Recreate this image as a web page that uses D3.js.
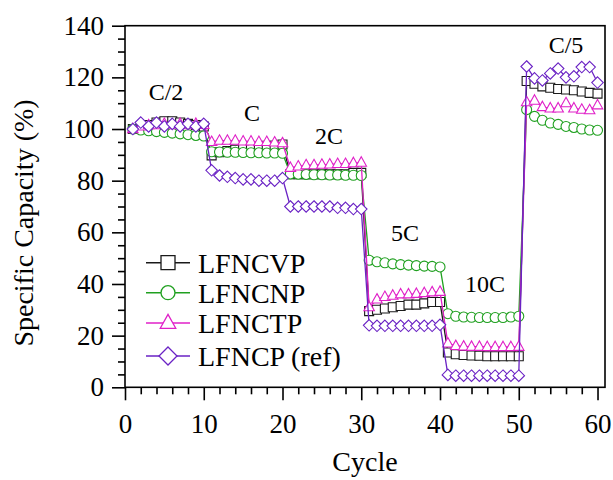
<!DOCTYPE html>
<html><head><meta charset="utf-8">
<script src="https://cdn.jsdelivr.net/npm/d3@7"></script>
<style>html,body{margin:0;padding:0;background:#fff;}svg{display:block;}</style>
</head><body>
<svg id="chart" width="613" height="480"></svg>
<script>
const cycles = d3.range(1, 61);
const seriesNames = ["LFNCVP", "LFNCNP", "LFNCTP", "LFNCP (ref)"];
const LFNCVP = [100,101,101.5,102.5,103,103,102.5,102,101.5,101,
  89.8,91,91.5,92,92.5,93,93,93.5,93.5,94,
  82.5,82.5,82.5,82.5,82.5,82.5,82.5,82.5,83,83,
  29.5,30,30.5,31,31.5,32,32,32.5,33,33,
  13.5,12.8,12.5,12.3,12.2,12,12,12,12,12,
  118.6,117.5,116.5,116,115.5,115.3,115,114.5,114,113.7];
const LFNCNP = [100,99.6,99.3,99,98.7,98.4,98.1,97.8,97.5,97.3,
  91.2,91.1,91,91,90.9,90.8,90.8,90.7,90.7,90.6,
  82.6,82.5,82.4,82.3,82.3,82.2,82.2,82.1,82.1,82,
  49.2,48.6,48.2,47.8,47.5,47.3,47.1,46.9,46.8,46.6,
  28.5,27.5,27.2,27.1,27,27,27,27,27.2,27.5,
  107.5,104.9,103.4,102.3,101.8,101,100.6,100,99.6,99.5];
const LFNCTP = [100,101,101.5,101.5,102,101.5,102,101.5,102,101.6,
  95,95.5,95.5,95.5,95.2,95.2,95,95,94.8,94.5,
  85,85.5,86,86,86.2,86.3,86.5,86.5,86.8,87,
  31,34,35,35.5,36,36,36.2,36.5,36.8,37,
  17,16,15.8,15.7,15.7,15.6,15.6,15.6,15.6,15.7,
  110.4,111,108.5,108,108,110,108,107.5,107.3,109.2];
const LFNCP = [100,102.5,101,102.5,101,102,101,102,101,102,
  84,82,81.5,81,80.5,80.5,80,80,80,81,
  70,70,70,70,70,70,69.5,69.5,69,69,
  24,23.8,23.8,23.8,23.8,23.8,23.8,23.8,23.8,24.2,
  4.8,4.5,4.5,4.5,4.5,4.5,4.5,4.5,4.5,4.5,
  124.2,119.6,118.8,121.5,123.4,120,120.4,124,124,118];
const xTicks = [0,10,20,30,40,50,60];
const yTicks = [0,20,40,60,80,100,120,140];
const rateLabels = ["C/2","C","2C","5C","10C","C/5"];

const colors = ["#1a1a1a","#20a020","#e020c8","#6a22c4"];
const shapes = ["square","circle","triangle","diamond"];
const seriesData = [LFNCVP, LFNCNP, LFNCTP, LFNCP];

const svg = d3.select("#chart");
const W = 613, H = 480;
const m = {left:125, right:8, top:25.7, bottom:92.7};
const x = d3.scaleLinear().domain([0, 60.95]).range([m.left, W - m.right]);
const y = d3.scaleLinear().domain([0, 140]).range([H - m.bottom, m.top]);
const font = "'Liberation Serif','Times New Roman',serif";

// frame
svg.append("rect").attr("x", x(0)).attr("y", y(140))
  .attr("width", x(60.95) - x(0)).attr("height", y(0) - y(140))
  .attr("fill", "none").attr("stroke", "#000").attr("stroke-width", 1.6);

// axes
const xMinor = d3.axisBottom(x).tickValues(d3.range(0, 61, 2).filter(v => v % 10)).tickSize(7).tickFormat("");
const xMajor = d3.axisBottom(x).tickValues(xTicks).tickSize(13).tickPadding(14).tickFormat(d3.format("d"));
const yMinor = d3.axisLeft(y).tickValues(d3.range(0, 141, 5).filter(v => v % 20)).tickSize(7).tickFormat("");
const yMajor = d3.axisLeft(y).tickValues(yTicks).tickSize(13).tickPadding(8).tickFormat(d3.format("d"));
function styleAxis(g){
  g.select(".domain").remove();
  g.selectAll("line").attr("stroke","#000").attr("stroke-width",1.6);
  g.selectAll("text").attr("font-family", font).attr("font-size", 27).attr("fill","#000");
}
svg.append("g").attr("transform", `translate(0,${y(0)})`).call(xMinor).call(styleAxis);
svg.append("g").attr("transform", `translate(0,${y(0)})`).call(xMajor).call(styleAxis);
svg.append("g").attr("transform", `translate(${x(0)},0)`).call(yMinor).call(styleAxis);
svg.append("g").attr("transform", `translate(${x(0)},0)`).call(yMajor).call(styleAxis);

// titles
svg.append("text").attr("x", 365).attr("y", 471).attr("text-anchor","middle")
  .attr("font-family", font).attr("font-size", 28).text("Cycle");
svg.append("text").attr("transform","translate(33,223) rotate(-90)").attr("text-anchor","middle")
  .attr("font-family", font).attr("font-size", 28).text("Specific Capacity (%)");

// markers
function markerPath(shape, s){
  const h = s/2;
  if (shape === "square") return `M${-h},${-h}H${h}V${h}H${-h}Z`;
  if (shape === "circle") return d3.arc()({innerRadius:0, outerRadius:h, startAngle:0, endAngle:2*Math.PI});
  if (shape === "triangle") { const th = s*0.9; return `M0,${-th*0.62}L${h},${th*0.38}L${-h},${th*0.38}Z`; }
  if (shape === "diamond") return `M0,${-h}L${h},0L0,${h}L${-h},0Z`;
}
const plotSizes = [9, 10, 10.5, 11.5];
const legSizes = [14, 14, 15.5, 18];

const line = d3.line().x((d,i) => x(cycles[i])).y(d => y(d));
seriesData.forEach((vals, k) => {
  const g = svg.append("g");
  g.append("path").datum(vals).attr("d", line).attr("fill","none")
    .attr("stroke", colors[k]).attr("stroke-width", 1.3);
  g.selectAll("path.m").data(vals).join("path").attr("class","m")
    .attr("transform", (d,i) => `translate(${x(cycles[i])},${y(d)})`)
    .attr("d", markerPath(shapes[k], plotSizes[k]))
    .attr("fill","#fff").attr("stroke", colors[k]).attr("stroke-width", 1.1);
});

// rate labels
const rateX = [166, 252, 329, 405, 485, 566];
const rateY = [100, 121, 144, 241, 292, 53];
rateLabels.forEach((t,i) => {
  svg.append("text").attr("x", rateX[i]).attr("y", rateY[i]).attr("text-anchor","middle")
    .attr("font-family", font).attr("font-size", 24).text(t);
});

// legend
const legY = [262.7, 292.7, 323, 356];
seriesNames.forEach((n,k) => {
  const g = svg.append("g").attr("transform", `translate(0,${legY[k]})`);
  g.append("line").attr("x1",146).attr("x2",190).attr("y1",0).attr("y2",0)
    .attr("stroke", colors[k]).attr("stroke-width", 1.5);
  g.append("path").attr("transform","translate(168,0)").attr("d", markerPath(shapes[k], legSizes[k]))
    .attr("fill","#fff").attr("stroke", colors[k]).attr("stroke-width", 1.3);
  g.append("text").attr("x", 198).attr("y", 0).attr("dy","0.35em")
    .attr("font-family", font).attr("font-size", 28).text(n);
});
</script>
</body></html>
